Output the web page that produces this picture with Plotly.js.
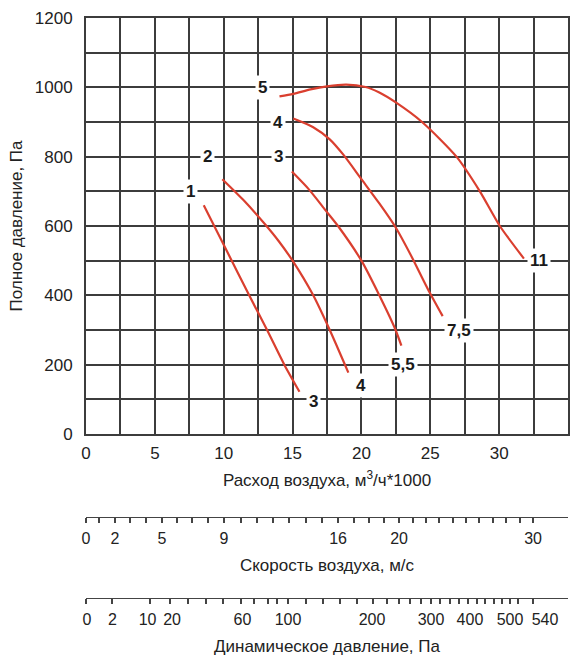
<!DOCTYPE html>
<html>
<head>
<meta charset="utf-8">
<script src="https://cdn.plot.ly/plotly-3.0.1.min.js"></script>
<style>html,body{margin:0;padding:0;background:#fff;}#chart{width:572px;height:656px;}</style>
</head>
<body>
<div id="chart"></div>
<script>
// Fan curves: air flow (thousand m3/h) vs total pressure (Pa)
const curve1X = [8.55, 10.2, 11.85, 13.15, 14.4, 15.5];
const curve1Y = [660, 530, 400, 300, 200, 122];
const curve2X = [9.9, 11.5, 13.0, 14.0, 15.0, 16.5, 17.7, 19.05];
const curve2Y = [735, 672, 605, 556, 500, 400, 300, 177];
const curve3X = [14.95, 16.2, 17.4, 18.3, 20.0, 21.35, 22.45, 22.9];
const curve3Y = [757, 705, 645, 600, 500, 396, 303, 255];
const curve4X = [15.05, 16.5, 17.7, 18.7, 20.0, 21.3, 22.5, 23.6, 24.8, 25.9];
const curve4Y = [910, 885, 850, 805, 735, 665, 595, 515, 420, 340];
const curve5X = [14.05, 15.05, 16.3, 17.5, 18.9, 20.3, 21.3, 22.55, 24.4, 26.9, 28.6, 30.05, 31.8];
const curve5Y = [974, 981, 994, 1003, 1008, 1001, 985, 955, 900, 800, 700, 600, 506];

// Curve labels (start: impeller no., end: motor power)
const startLabels = ['1', '2', '3', '4', '5'];
const startLabelX = [7.6, 8.85, 13.95, 13.95, 12.8];
const startLabelY = [700, 800, 800, 900, 1000];
const endLabels = ['3', '4', '5,5', '7,5', '11'];
const endLabelX = [16.5, 20.0, 23.0, 27.1, 32.9];
const endLabelY = [95, 140, 200, 300, 500];

// Secondary scales: air velocity (m/s) and dynamic pressure (Pa),
// given as the air flow value each tick (or label) sits at
const speedTicks = [0,1,2,3,4,5,6,7,8,9,10,11,12,13,14,15,16,17,18,19,20,21,22,23,24,25,26,27,28,29,30];
const speedTickFlow = [0,0.94,2.11,3.2,4.36,5.52,6.61,7.7,8.86,10.02,11.26,12.42,13.58,14.74,15.98,17.14,18.3,19.46,20.55,21.64,22.73,23.75,24.69,25.63,26.65,27.6,28.54,29.56,30.5,31.52,32.46];
const speedLabeled = [0, 2, 5, 9, 16, 20, 30];
const dynTicks = [0,2,10,20,30,40,50,60,70,80,90,100,120,140,160,180,200,220,240,260,280,300,320,340,360,380,400,420,440,460,480,500,540];
const dynTickFlow = [0,1.89,4.65,6.1,7.41,8.71,9.95,11.26,12.2,13.22,13.87,14.67,15.98,17.21,18.45,19.68,20.84,21.86,22.73,23.53,24.33,25.05,25.71,26.43,27.09,27.74,28.39,28.97,29.63,30.21,30.79,31.37,32.46];
const dynLabels = ['0', '2', '10', '20', '60', '100', '200', '300', '400', '500', '540'];
const dynLabelFlow = [0.07, 1.92, 4.47, 6.25, 11.36, 14.67, 20.77, 25.05, 27.88, 30.79, 33.33];

const RED = '#da3f2f';
const GRID = '#3c3c3c';
const FONT = 'Liberation Sans, Arial, sans-serif';

const curves = [[curve1X, curve1Y], [curve2X, curve2Y], [curve3X, curve3Y], [curve4X, curve4Y], [curve5X, curve5Y]];
const traces = curves.map(c => ({
  x: c[0], y: c[1], type: 'scatter', mode: 'lines',
  line: {color: RED, width: 2.2, shape: 'spline', smoothing: 0.7},
  hoverinfo: 'skip', showlegend: false, xaxis: 'x', yaxis: 'y'
}));
// invisible helpers so the secondary scales are drawn
[['x2', 'y2'], ['x3', 'y3'], ['x4', 'y3']].forEach(a => traces.push({
  x: [0], y: [-10], xaxis: a[0], yaxis: a[1], mode: 'markers',
  marker: {opacity: 0}, hoverinfo: 'skip', showlegend: false
}));

const annotations = [];
function addLabels(txts, xs, ys) {
  txts.forEach((t, i) => annotations.push({
    x: xs[i], y: ys[i], xref: 'x', yref: 'y', text: t, showarrow: false,
    bgcolor: '#ffffff', borderpad: 2,
    font: {family: FONT, size: 17, color: '#1a1a1a', weight: 'bold'}
  }));
}
addLabels(startLabels, startLabelX, startLabelY);
addLabels(endLabels, endLabelX, endLabelY);

const tickFont = {family: FONT, size: 16, color: '#222'};
const titleFont = {family: FONT, size: 17, color: '#222'};

const layout = {
  width: 572, height: 656,
  margin: {l: 86, r: 4, t: 18, b: 58},
  paper_bgcolor: '#fff', plot_bgcolor: '#fff',
  font: {family: FONT, color: '#222'},
  showlegend: false,
  xaxis: {
    range: [0, 35], domain: [0, 1], anchor: 'y',
    tickmode: 'linear', tick0: 0, dtick: 5, ticks: '',
    showgrid: true, gridcolor: GRID, gridwidth: 2,
    minor: {dtick: 2.5, showgrid: true, gridcolor: GRID, gridwidth: 2},
    showline: true, mirror: true, linecolor: GRID, linewidth: 2,
    zeroline: false, tickangle: 0,
    tickfont: {family: FONT, size: 17, color: '#222'},
    ticklabelstandoff: 3,
    title: {text: 'Расход воздуха, м<sup>3</sup>/ч*1000', font: titleFont, standoff: 12},
    fixedrange: true
  },
  yaxis: {
    range: [0, 1200], domain: [0.28276, 1], anchor: 'x',
    tickmode: 'linear', tick0: 0, dtick: 200, ticks: '',
    showgrid: true, gridcolor: GRID, gridwidth: 2,
    minor: {dtick: 100, showgrid: true, gridcolor: GRID, gridwidth: 2},
    showline: true, mirror: true, linecolor: GRID, linewidth: 2,
    zeroline: false,
    tickfont: {family: FONT, size: 17, color: '#222'},
    ticklabelstandoff: 8,
    title: {text: 'Полное давление, Па', font: titleFont, standoff: 8},
    fixedrange: true
  },
  xaxis2: {
    range: [0, 35], domain: [0, 1], anchor: 'y2',
    tickmode: 'array', tickvals: speedTickFlow,
    ticktext: speedTicks.map(v => speedLabeled.includes(v) ? String(v) : ''),
    ticks: 'outside', ticklen: 5, tickwidth: 1.2, tickcolor: '#444',
    showline: true, linecolor: '#444', linewidth: 1.2,
    showgrid: false, zeroline: false, tickangle: 0,
    tickfont: tickFont, ticklabelstandoff: 2,
    title: {text: 'Скорость воздуха, м/с', font: titleFont, standoff: 12},
    fixedrange: true
  },
  yaxis2: {domain: [0.13966, 0.15], range: [0, 1], visible: false, anchor: 'x2', fixedrange: true},
  xaxis3: {
    range: [0, 35], domain: [0, 1], anchor: 'y3',
    tickmode: 'array', tickvals: dynTickFlow,
    ticktext: dynTicks.map(() => ''),
    ticks: 'outside', ticklen: 5, tickwidth: 1.2, tickcolor: '#444',
    showline: true, linecolor: '#444', linewidth: 1.2,
    showgrid: false, zeroline: false, tickangle: 0,
    showticklabels: false,
    fixedrange: true
  },
  xaxis4: {
    range: [0, 35], domain: [0, 1], anchor: 'y3', overlaying: 'x3',
    tickmode: 'array', tickvals: dynLabelFlow, ticktext: dynLabels,
    ticks: 'outside', ticklen: 5, tickcolor: 'rgba(0,0,0,0)',
    showline: false, showgrid: false, zeroline: false, tickangle: 0,
    tickfont: tickFont, ticklabelstandoff: 2,
    title: {text: 'Динамическое давление, Па', font: titleFont, standoff: 12},
    fixedrange: true
  },
  yaxis3: {domain: [0, 0.01], range: [0, 1], visible: false, anchor: 'x3', fixedrange: true},
  annotations: annotations
};

Plotly.newPlot('chart', traces, layout, {displayModeBar: false, staticPlot: true});
</script>
</body>
</html>
